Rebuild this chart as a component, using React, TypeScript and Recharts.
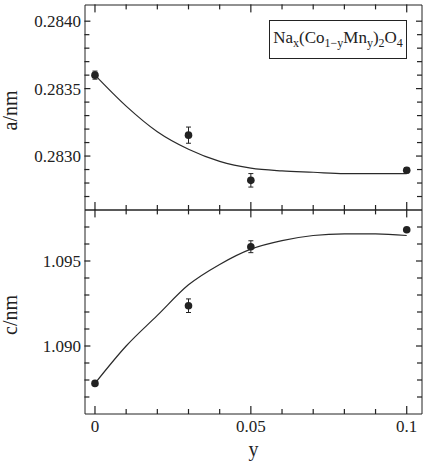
import React from "react";
import { ComposedChart, Line, Scatter, XAxis, YAxis, ErrorBar, Label } from "recharts";

const FONT = '"Liberation Serif", "Times New Roman", serif';
const INK = "#222";

// measured points (Mn content y)
const yContent = [0, 0.03, 0.05, 0.1];
const aMeasured = [0.2836, 0.283155, 0.28282, 0.282895];
const aError = [0.00003, 0.00006, 0.00005, 0.00002];
const cMeasured = [1.0878, 1.09237, 1.09584, 1.09684];
const cError = [0.0001, 0.0004, 0.00035, 0.0001];

// fitted curves
const fitY = [0, 0.01, 0.02, 0.03, 0.04, 0.05, 0.06, 0.07, 0.08, 0.09, 0.1];
const aFit = [0.2836, 0.28337, 0.28318, 0.28305, 0.28296, 0.28291, 0.28289, 0.28288, 0.28287, 0.28287, 0.28287];
const cFit = [1.0878, 1.09, 1.0918, 1.0936, 1.0948, 1.0957, 1.0962, 1.0965, 1.0966, 1.0966, 1.0965];

// ticks
const xTicks = [0, 0.01, 0.02, 0.03, 0.04, 0.05, 0.06, 0.07, 0.08, 0.09, 0.1];
const xMajor = [0, 0.05, 0.1];
const xMajorLabels = ["0", "0.05", "0.1"];
const aTicks = [0.2827, 0.2828, 0.2829, 0.283, 0.2831, 0.2832, 0.2833, 0.2834, 0.2835, 0.2836, 0.2837, 0.2838, 0.2839, 0.284];
const aMajor = [0.283, 0.2835, 0.284];
const aMajorLabels = ["0.2830", "0.2835", "0.2840"];
const cTicks = [1.087, 1.088, 1.089, 1.09, 1.091, 1.092, 1.093, 1.094, 1.095, 1.096, 1.097];
const cMajor = [1.09, 1.095];
const cMajorLabels = ["1.090", "1.095"];

const xDomain = [-0.0032, 0.1049];
const aDomain = [0.2826, 0.28412];
const cDomain = [1.086, 1.098];

const aPoints = yContent.map((x, i) => ({ x, v: aMeasured[i], err: aError[i] }));
const cPoints = yContent.map((x, i) => ({ x, v: cMeasured[i], err: cError[i] }));
const aCurve = fitY.map((x, i) => ({ x, v: aFit[i] }));
const cCurve = fitY.map((x, i) => ({ x, v: cFit[i] }));

const isMajor = (major: number[], v: number) => major.some((m) => Math.abs(m - v) < 1e-9);

// tick marks sit on the frame edges (domain ends) and point inward
const frameMarks = (domain: number[], ticks: number[], major: number[]) => ({
  left: ticks.map((v) => ({ x: xDomain[0], v, big: isMajor(major, v) ? 1 : 0 })),
  right: ticks.map((v) => ({ x: xDomain[1], v, big: isMajor(major, v) ? 1 : 0 })),
  top: xTicks.map((x) => ({ x, v: domain[1], big: isMajor(xMajor, x) ? 1 : 0 })),
  bottom: xTicks.map((x) => ({ x, v: domain[0], big: isMajor(xMajor, x) ? 1 : 0 })),
});

// drawn as thin filled bars
const markShape = (side: string) => (p: any) => {
  const cx = Number(p.cx);
  const cy = Number(p.cy);
  const big = p.payload && p.payload.big;
  const len = side === "top" || side === "bottom" ? (big ? 8 : 5) : big ? 6 : 5;
  let x = cx - 0.6;
  let y = cy - 0.6;
  let w = 1.2;
  let h = 1.2;
  if (side === "left") w = len;
  else if (side === "right") {
    x = cx - len;
    w = len;
  } else if (side === "top") h = len;
  else {
    y = cy - len;
    h = len;
  }
  return <rect x={x} y={y} width={w} height={h} fill={INK} />;
};

const yLabelShape = (p: any) => (
  <text x={p.cx - 4} y={p.cy} dy="0.35em" textAnchor="end" fill={INK} fontSize={17} fontFamily={FONT}>
    {p.payload.label}
  </text>
);

const xLabelShape = (p: any) => (
  <text x={p.cx} y={p.cy + 18} textAnchor="middle" fill={INK} fontSize={17} fontFamily={FONT}>
    {p.payload.label}
  </text>
);

const yTitle = (txt: string) => (props: any) => {
  const vb = props.viewBox;
  const cy = vb.y + vb.height / 2 + 3;
  return (
    <text x={17} y={cy} transform={`rotate(-90 17 ${cy})`} textAnchor="middle" fill={INK} fontSize={20} fontFamily={FONT}>
      {txt}
    </text>
  );
};

const xTitle = (props: any) => {
  const vb = props.viewBox;
  return (
    <text x={vb.x + vb.width / 2} y={vb.y + 42} textAnchor="middle" fill={INK} fontSize={20} fontFamily={FONT}>
      y
    </text>
  );
};

const dot = (p: any) => <circle cx={p.cx} cy={p.cy} r={3.8} fill={INK} />;

const axisStroke = { stroke: INK, strokeWidth: 1 };

const Panel = ({ top, height, marginTop, bottomHeight, points, curve, domain, ticks, major, labels, title, showX }: any) => {
  const marks = frameMarks(domain, ticks, major);
  const yLabels = major.map((v: number, i: number) => ({ x: xDomain[0], v, label: labels[i] }));
  const xLabels = xMajor.map((x, i) => ({ x, v: domain[0], label: xMajorLabels[i] }));
  return (
    <div style={{ position: "absolute", left: 0, top }}>
      <ComposedChart width={428} height={height} margin={{ top: marginTop, right: 0, bottom: 0, left: 0 }}>
        <XAxis xAxisId="t" orientation="top" dataKey="x" type="number" domain={xDomain} height={1} tick={false} tickLine={false} axisLine={axisStroke} />
        <XAxis xAxisId="b" orientation="bottom" dataKey="x" type="number" domain={xDomain} height={bottomHeight} tick={false} tickLine={false} axisLine={axisStroke}>
          {showX && <Label content={xTitle} />}
        </XAxis>
        <YAxis yAxisId="l" type="number" domain={domain} width={85} tick={false} tickLine={false} axisLine={axisStroke}>
          <Label content={yTitle(title)} />
        </YAxis>
        <YAxis yAxisId="r" orientation="right" type="number" domain={domain} width={6} tick={false} tickLine={false} axisLine={axisStroke} />

        <Scatter xAxisId="b" yAxisId="l" data={marks.left} dataKey="v" shape={markShape("left")} isAnimationActive={false} />
        <Scatter xAxisId="b" yAxisId="l" data={marks.right} dataKey="v" shape={markShape("right")} isAnimationActive={false} />
        <Scatter xAxisId="b" yAxisId="l" data={marks.top} dataKey="v" shape={markShape("top")} isAnimationActive={false} />
        <Scatter xAxisId="b" yAxisId="l" data={marks.bottom} dataKey="v" shape={markShape("bottom")} isAnimationActive={false} />
        <Scatter xAxisId="b" yAxisId="l" data={yLabels} dataKey="v" shape={yLabelShape} isAnimationActive={false} />
        {showX && <Scatter xAxisId="b" yAxisId="l" data={xLabels} dataKey="v" shape={xLabelShape} isAnimationActive={false} />}

        {/* fit curve is tied to the top/right axes (same domains) so those axes get drawn */}
        <Line
          xAxisId="t"
          yAxisId="r"
          data={curve}
          dataKey="v"
          type="monotone"
          stroke="#2a2a2a"
          strokeWidth={1.2}
          dot={false}
          activeDot={false}
          isAnimationActive={false}
        />
        <Scatter xAxisId="b" yAxisId="l" data={points} dataKey="v" shape={dot} isAnimationActive={false}>
          <ErrorBar dataKey="err" direction="y" width={2.5} stroke={INK} strokeWidth={1} />
        </Scatter>
      </ComposedChart>
    </div>
  );
};

export default function App() {
  return (
    <div style={{ position: "absolute", left: 0, top: 0, width: 428, height: 464, background: "#fff" }}>
      <Panel
        top={0}
        height={211}
        marginTop={4}
        bottomHeight={1}
        points={aPoints}
        curve={aCurve}
        domain={aDomain}
        ticks={aTicks}
        major={aMajor}
        labels={aMajorLabels}
        title="a/nm"
        showX={false}
      />
      <Panel
        top={209}
        height={255}
        marginTop={0}
        bottomHeight={50}
        points={cPoints}
        curve={cCurve}
        domain={cDomain}
        ticks={cTicks}
        major={cMajor}
        labels={cMajorLabels}
        title="c/nm"
        showX={true}
      />
      <div
        style={{
          position: "absolute",
          left: 269,
          top: 20,
          width: 136,
          height: 37,
          border: `1px solid ${INK}`,
          display: "flex",
          alignItems: "center",
          justifyContent: "center",
          fontFamily: FONT,
          fontSize: 17,
          color: INK,
          background: "#fff",
        }}
      >
        <span>
          Na<span style={{ fontSize: 12, verticalAlign: "-0.3em" }}>x</span>(Co
          <span style={{ fontSize: 12, verticalAlign: "-0.3em" }}>1−y</span>Mn
          <span style={{ fontSize: 12, verticalAlign: "-0.3em" }}>y</span>)
          <span style={{ fontSize: 12, verticalAlign: "-0.3em" }}>2</span>O
          <span style={{ fontSize: 12, verticalAlign: "-0.3em" }}>4</span>
        </span>
      </div>
    </div>
  );
}
